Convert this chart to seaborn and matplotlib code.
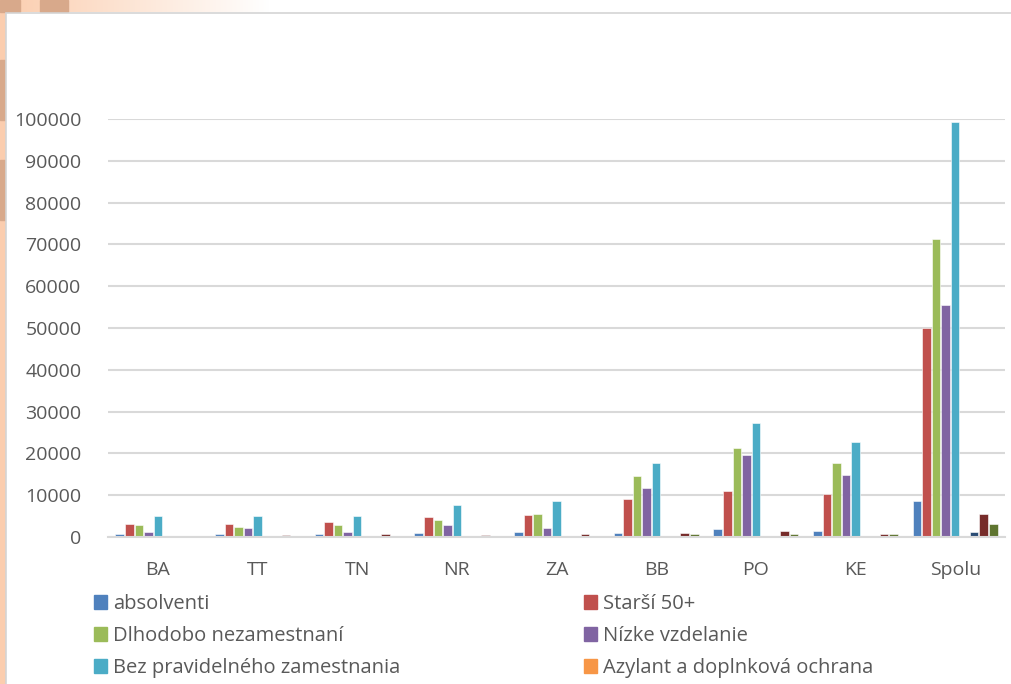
import numpy as np
import pandas as pd
import seaborn as sns
import matplotlib.pyplot as plt
from matplotlib.patches import Patch, Rectangle

# Regions and groups of job seekers
regions = ["BA", "TT", "TN", "NR", "ZA", "BB", "PO", "KE", "Spolu"]

absolventi = [600, 800, 800, 1000, 1300, 1000, 1900, 1500, 8700]
starsi_50 = [3000, 3100, 3700, 4900, 5300, 9100, 10900, 10200, 50100]
dlhodobo = [2900, 2500, 2950, 4100, 5500, 14600, 21200, 17700, 71400]
nizke_vzdelanie = [1300, 2200, 1300, 2900, 2200, 11700, 19500, 14800, 55500]
bez_zamestnania = [5100, 5100, 5000, 7600, 8700, 17700, 27200, 22700, 99200]
azylant = [20, 20, 20, 30, 20, 30, 30, 30, 60]
seria_7 = [100, 100, 100, 150, 100, 150, 150, 200, 1100]
seria_8 = [300, 400, 600, 400, 800, 1000, 1350, 800, 5600]
seria_9 = [100, 100, 300, 300, 100, 700, 600, 800, 3000]

series_names = [
    "absolventi", "Starší 50+", "Dlhodobo nezamestnaní", "Nízke vzdelanie",
    "Bez pravidelného zamestnania", "Azylant a doplnková ochrana",
    "Séria 7", "Séria 8", "Séria 9",
]
series_values = [absolventi, starsi_50, dlhodobo, nizke_vzdelanie,
                 bez_zamestnania, azylant, seria_7, seria_8, seria_9]
colors = ["#4F81BD", "#C0504D", "#9BBB59", "#8064A2", "#4BACC6",
          "#F79646", "#2C4D75", "#772C2A", "#5F7530"]

rows = []
for name, vals in zip(series_names, series_values):
    for reg, v in zip(regions, vals):
        rows.append({"region": reg, "skupina": name, "pocet": v})
df = pd.DataFrame(rows)

sns.set_theme(style="white")
plt.rcParams["font.family"] = ["Open Sans", "DejaVu Sans"]

W, H = 1011, 684
fig = plt.figure(figsize=(W / 100, H / 100), dpi=100)
fig.patch.set_facecolor("white")

# decorative backdrop: peach strip on the left and a fading band on top
bg = fig.add_axes([0, 0, 1, 1], zorder=-10)
bg.set_axis_off()
bg.set_xlim(0, W)
bg.set_ylim(H, 0)
bg.add_patch(Rectangle((0, 0), 6, H, color="#FBCDAE"))
grad = np.linspace(0, 1, 256)[None, :]
peach = np.array([251, 205, 174]) / 255
img = peach[None, None, :] * (1 - grad[..., None]) + np.ones(3)[None, None, :] * grad[..., None]
bg.imshow(img, extent=(0, 270, 12, 0), aspect="auto")
bg.add_patch(Rectangle((0, 0), 20, 12, color="#D8A98B"))
bg.add_patch(Rectangle((40, 0), 28, 12, color="#D8A98B"))
bg.add_patch(Rectangle((0, 60), 5, 60, color="#D8A98B"))
bg.add_patch(Rectangle((0, 160), 5, 60, color="#D8A98B"))
bg.add_patch(Rectangle((5.5, 12.5), W, H, facecolor="white",
                       edgecolor="#D4D4D4", linewidth=1.2))

ax = fig.add_axes([108 / W, (H - 537) / H, (1005 - 108) / W, (537 - 119) / H])
sns.barplot(data=df, x="region", y="pocet", hue="skupina",
            hue_order=series_names, palette=colors, order=regions,
            saturation=1, width=0.86, gap=0.1, edgecolor="white",
            linewidth=0.4, legend=False, ax=ax)

ax.set_ylim(0, 100000)
ax.set_yticks(np.arange(0, 100001, 10000))
ax.set_yticklabels([str(v) for v in range(0, 100001, 10000)])
ax.set_xlim(-0.5, len(regions) - 0.5)
ax.grid(axis="y", color="#D9D9D9", linewidth=1.5)
ax.set_axisbelow(True)
for s in ["top", "right", "left"]:
    ax.spines[s].set_visible(False)
ax.spines["bottom"].set_color("#D9D9D9")
ax.spines["bottom"].set_linewidth(1.5)
ax.tick_params(axis="both", length=0, labelsize=14, colors="#595959")
ax.tick_params(axis="y", pad=19)
ax.tick_params(axis="x", pad=17)
ax.set_xlabel("")
ax.set_ylabel("")
ax.patch.set_alpha(0)

# legend laid out in two columns
left_idx = [0, 2, 4]
right_idx = [1, 3, 5]
common = dict(frameon=False, fontsize=14.5, labelcolor="#595959",
              handlelength=0.65, handleheight=0.65, handletextpad=0.3,
              labelspacing=0.6, borderaxespad=0)
leg1 = fig.legend(handles=[Patch(color=colors[i]) for i in left_idx],
                  labels=[series_names[i] for i in left_idx],
                  loc="upper left", bbox_to_anchor=(86 / W, (H - 586) / H), **common)
leg2 = fig.legend(handles=[Patch(color=colors[i]) for i in right_idx],
                  labels=[series_names[i] for i in right_idx],
                  loc="upper left", bbox_to_anchor=(576 / W, (H - 586) / H), **common)

fig.savefig("out.png", dpi=100)
